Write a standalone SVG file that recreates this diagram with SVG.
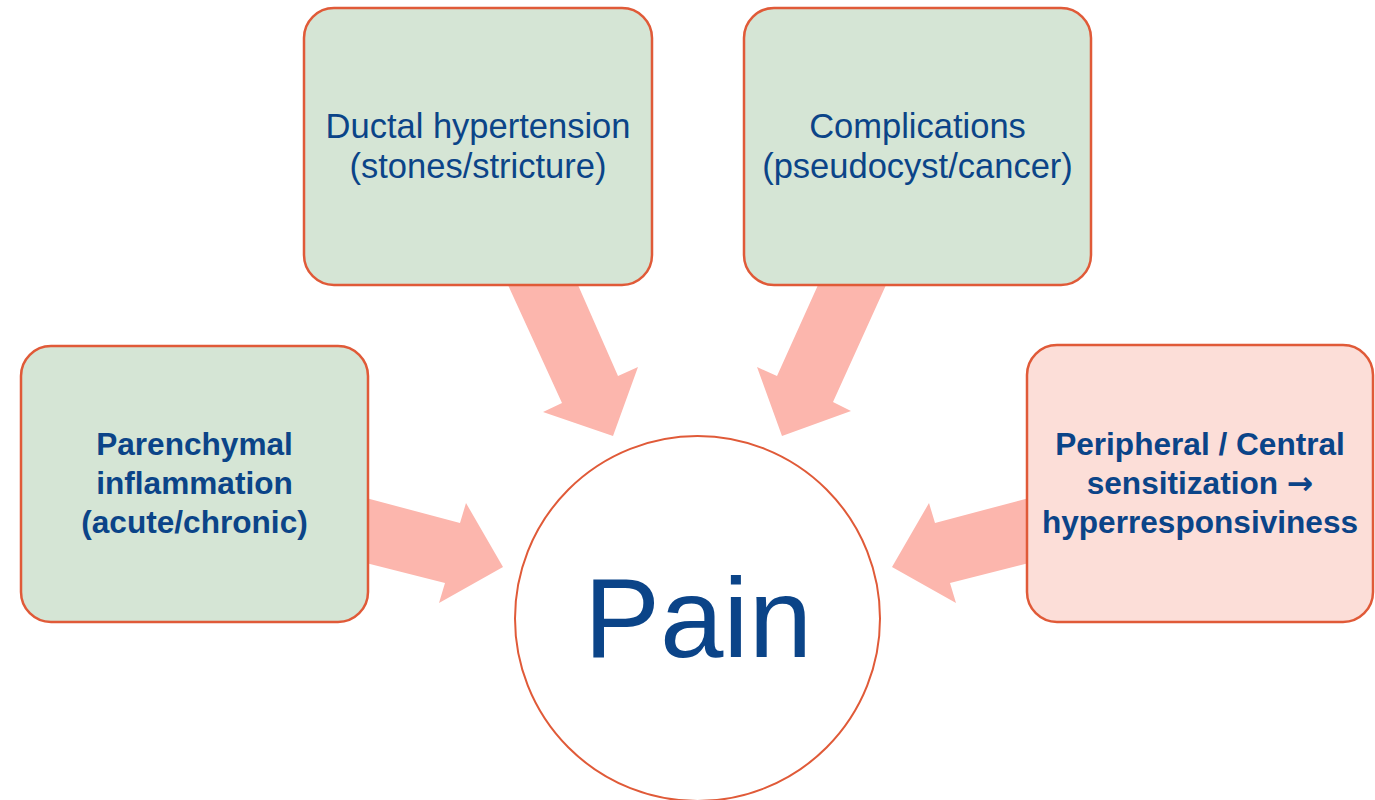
<svg xmlns="http://www.w3.org/2000/svg" width="1375" height="800" viewBox="0 0 1375 800">
<style>
.box{stroke:#E05A38;stroke-width:2.5}
.green{fill:#D5E5D5}
.pink{fill:#FCDED8}
.arrow{fill:#FCB6AD}
.t{font-family:"Liberation Sans",Arial,sans-serif;fill:#0B4488;text-anchor:middle}
.reg{font-size:34.5px}
.bold{font-size:31.6px;font-weight:bold}
.sym{font-family:"DejaVu Sans",sans-serif}
</style>
<rect width="1375" height="800" fill="#FFFFFF"/>
<g id="connectors">
<polygon class="arrow" points="508,285 578,285 618,376 638,367 613,436 543,412 562,403"/>
<polygon class="arrow" points="818,285 886,285 833,402 851,411 782,436 757,367 777,376"/>
<polygon class="arrow" points="366,498 460,523 466,503 503,567 439,603 445,583 366,563"/>
<polygon class="arrow" points="1029,498 935,523 929,503 892,567 956,603 950,583 1029,563"/>
</g>
<g id="node-ductal">
<rect class="box green" x="304" y="8" width="348" height="277" rx="30"/>
<text class="t reg" x="478" y="138">Ductal hypertension</text>
<text class="t reg" x="478" y="178">(stones/stricture)</text>
</g>
<g id="node-complications">
<rect class="box green" x="744" y="8" width="347" height="277" rx="30"/>
<text class="t reg" x="917.5" y="138">Complications</text>
<text class="t reg" x="917.5" y="178">(pseudocyst/cancer)</text>
</g>
<g id="node-parenchymal">
<rect class="box green" x="21" y="346" width="347" height="276" rx="30"/>
<text class="t bold" x="194.5" y="455">Parenchymal</text>
<text class="t bold" x="194.5" y="494">inflammation</text>
<text class="t bold" x="194.5" y="533">(acute/chronic)</text>
</g>
<g id="node-sensitization">
<rect class="box pink" x="1027" y="345" width="346" height="277" rx="30"/>
<text class="t bold" x="1200" y="455">Peripheral / Central</text>
<text class="t bold" x="1200" y="494">sensitization <tspan class="sym">→</tspan></text>
<text class="t bold" x="1200" y="533">hyperresponsiviness</text>
</g>
<g id="node-pain">
<circle cx="697.5" cy="618.5" r="182.5" fill="#FFFFFF" stroke="#E05A38" stroke-width="2"/>
<text class="t" x="698" y="657" font-size="114">Pain</text>
</g>
</svg>
